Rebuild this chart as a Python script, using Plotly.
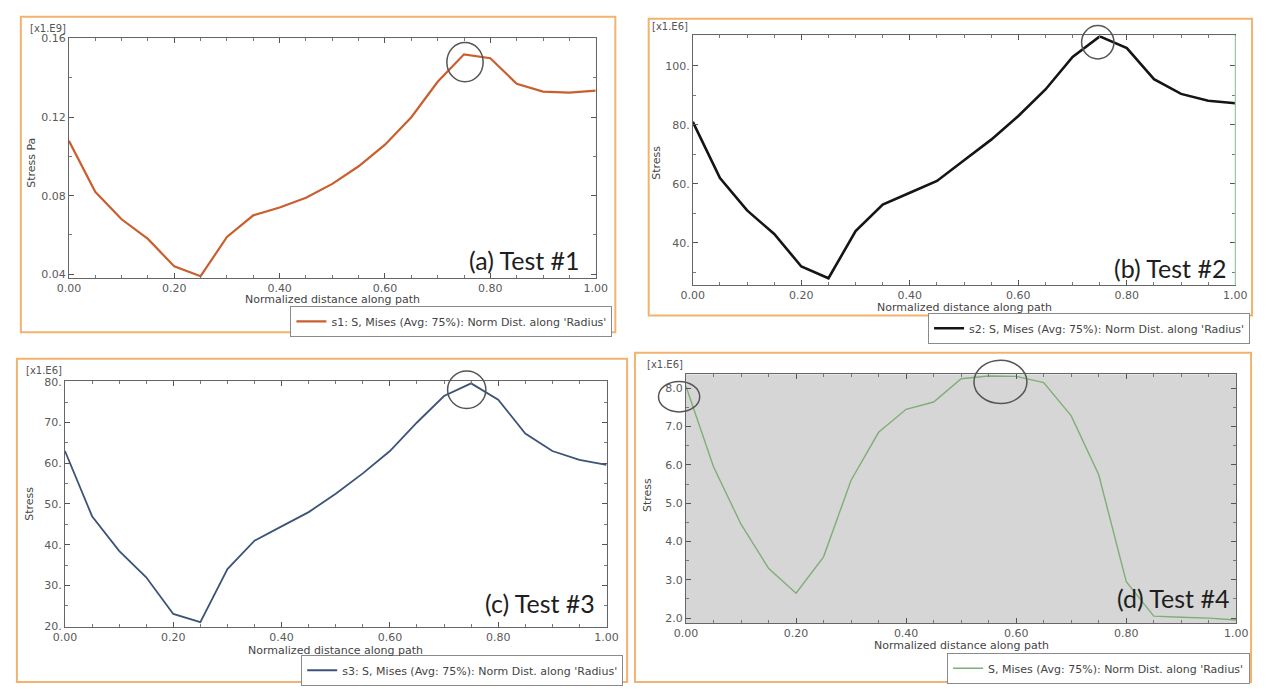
import plotly.graph_objects as go

W, H = 1266, 689

# ---------------- data ----------------
X = [0.00, 0.05, 0.10, 0.15, 0.20, 0.25, 0.30, 0.35, 0.40, 0.45, 0.50,
     0.55, 0.60, 0.65, 0.70, 0.75, 0.80, 0.85, 0.90, 0.95, 1.00]

S1 = [0.108, 0.082, 0.068, 0.058, 0.044, 0.039, 0.059, 0.070, 0.074, 0.079, 0.086,
      0.095, 0.106, 0.120, 0.138, 0.152, 0.150, 0.137, 0.133, 0.1325, 0.1335]
S2 = [81.0, 62.0, 51.0, 43.0, 32.0, 28.0, 44.0, 53.0, 57.0, 61.0, 68.0,
      75.0, 83.0, 92.0, 103.0, 110.0, 106.0, 95.5, 90.5, 88.2, 87.3]
S3 = [63.0, 47.0, 38.5, 32.0, 23.0, 21.0, 34.0, 41.0, 44.5, 48.0, 52.5,
      57.5, 63.0, 70.0, 76.5, 79.6, 75.6, 67.3, 63.0, 60.8, 59.6]
S4 = [8.05, 5.95, 4.45, 3.3, 2.65, 3.6, 5.6, 6.85, 7.45, 7.64, 8.25,
      8.32, 8.31, 8.15, 7.28, 5.74, 2.95, 2.05, 2.02, 2.0, 1.95]

X_TICKVALS = [0.0, 0.2, 0.4, 0.6, 0.8, 1.0]
X_TICKTEXT = ["0.00", "0.20", "0.40", "0.60", "0.80", "1.00"]
A_YTICKVALS = [0.04, 0.08, 0.12, 0.16]
A_YTICKTEXT = ["0.04", "0.08", "0.12", "0.16"]
B_YTICKVALS = [40, 60, 80, 100]
B_YTICKTEXT = ["40.", "60.", "80.", "100."]
C_YTICKVALS = [20, 30, 40, 50, 60, 70, 80]
C_YTICKTEXT = ["20.", "30.", "40.", "50.", "60.", "70.", "80."]
D_YTICKVALS = [2, 3, 4, 5, 6, 7, 8]
D_YTICKTEXT = ["2.0", "3.0", "4.0", "5.0", "6.0", "7.0", "8.0"]

LEGEND_NAMES = [
    "s1: S, Mises (Avg: 75%): Norm Dist. along 'Radius'",
    "s2: S, Mises (Avg: 75%): Norm Dist. along 'Radius'",
    "s3: S, Mises (Avg: 75%): Norm Dist. along 'Radius'",
    "S, Mises (Avg: 75%): Norm Dist. along 'Radius'",
]
PANEL_LABELS = ["(a) Test #1", "(b) Test #2", "(c) Test #3", "(d) Test #4"]
Y_TITLES = ["Stress Pa", "Stress", "Stress", "Stress"]
MULTIPLIERS = ["[x1.E9]", "[x1.E6]", "[x1.E6]", "[x1.E6]"]
X_TITLE = "Normalized distance along path"

# ---------------- layout geometry (pixels) ----------------
# plot area boxes: left, right, top, bottom
BOX = [(58, 595, 33, 277), (694, 1247, 30, 284), (54, 606, 382, 632), (687, 1248, 375, 628)]
YRANGES = [[0.038, 0.1601], [25.7, 110.3], [19.8, 80.1], [1.87, 8.36]]
MINOR_DY = [0.02, 10, 5, 0.5]
FRAMES = [(9, 615, 11, 332), (649, 1264, 13, 315), (5, 627, 359, 688), (635, 1263, 353, 688)]
COLORS = ["#c95f2e", "#151515", "#3c5478", "#7fae76"]
WIDTHS = [2.2, 2.6, 1.8, 1.4]
BG = ["white", "white", "white", "#d6d6d6"]
LEG_BOX = [(612, 321), (1262, 328), (623, 676), (1262, 674)]  # right, centre y
LABEL_POS = [(581, 258), (1239, 267), (596, 608), (1243, 603)]  # right, centre y
MULT_POS = [(16, 23), (650, 21), (12, 371), (645, 365)]
YTITLE_POS = [(20, 160), (657, 160), (18, 507), (648, 498)]
XTITLE_Y = [299, 307, 656, 651]

ALL_Y = [S1, S2, S3, S4]
YTV = [A_YTICKVALS, B_YTICKVALS, C_YTICKVALS, D_YTICKVALS]
YTT = [A_YTICKTEXT, B_YTICKTEXT, C_YTICKTEXT, D_YTICKTEXT]


def paper_x(p):
    return p / W


def paper_y(p):
    return 1 - p / H


def data_to_px(i, xv, yv):
    l, r, t, b = BOX[i]
    y0, y1 = YRANGES[i]
    return l + (xv - 0) / 1.0 * (r - l), b - (yv - y0) / (y1 - y0) * (b - t)


TICKFONT = dict(family="DejaVu Sans", size=11, color="#5a5a5a")
TXTFONT = dict(family="DejaVu Sans", size=11, color="#444")

fig = go.Figure()
layout = dict(width=W, height=H, margin=dict(l=0, r=0, t=0, b=0),
              paper_bgcolor="white", showlegend=True, shapes=[], annotations=[])

for i in range(4):
    sfx = "" if i == 0 else str(i + 1)
    leg = "legend" if i == 0 else "legend" + str(i + 1)
    fig.add_trace(go.Scatter(x=X, y=ALL_Y[i], mode="lines", name=LEGEND_NAMES[i],
                             line=dict(color=COLORS[i], width=WIDTHS[i]),
                             xaxis="x" + sfx, yaxis="y" + sfx, legend=leg))
    l, r, t, b = BOX[i]
    layout["xaxis" + sfx] = dict(
        domain=[paper_x(l), paper_x(r)], anchor="y" + sfx, range=[0, 1],
        tickmode="array", tickvals=X_TICKVALS, ticktext=X_TICKTEXT,
        ticks="inside", ticklen=5, tickcolor="#555", tickfont=TICKFONT,
        showline=True, linecolor="#666", linewidth=1, mirror="ticks",
        showgrid=False, zeroline=False, fixedrange=True,
        minor=dict(tickmode="linear", tick0=0, dtick=0.05, ticks="inside", ticklen=3,
                   tickcolor="#777", showgrid=False))
    layout["yaxis" + sfx] = dict(
        domain=[paper_y(b), paper_y(t)], anchor="x" + sfx, range=YRANGES[i],
        tickmode="array", tickvals=YTV[i], ticktext=YTT[i],
        ticks="inside", ticklen=5, tickcolor="#555", tickfont=TICKFONT,
        showline=True, linecolor="#666", linewidth=1, mirror="ticks",
        showgrid=False, zeroline=False, fixedrange=True,
        minor=dict(tickmode="linear", tick0=0, dtick=MINOR_DY[i], ticks="inside", ticklen=3,
                   tickcolor="#777", showgrid=False))
    # plot background
    layout["shapes"].append(dict(type="rect", xref="paper", yref="paper",
                                 x0=paper_x(l), x1=paper_x(r), y0=paper_y(b), y1=paper_y(t),
                                 fillcolor=BG[i], line=dict(width=0), layer="below"))
    # orange frame
    fl, fr, ft, fb = FRAMES[i]
    layout["shapes"].append(dict(type="rect", xref="paper", yref="paper",
                                 x0=paper_x(fl), x1=paper_x(fr), y0=paper_y(fb), y1=paper_y(ft),
                                 line=dict(color="#f2b36e", width=2), fillcolor="rgba(0,0,0,0)",
                                 layer="below"))
    # legend
    lr, lc = LEG_BOX[i]
    layout[leg] = dict(x=paper_x(lr), y=paper_y(lc), xanchor="right", yanchor="middle",
                       xref="paper", yref="paper", bgcolor="white", bordercolor="#8a8a8a",
                       borderwidth=1, font=dict(family="DejaVu Sans", size=11, color="#444"),
                       itemwidth=30, tracegroupgap=0)
    # panel label
    px_, py_ = LABEL_POS[i]
    layout["annotations"].append(dict(text=PANEL_LABELS[i], x=paper_x(px_), y=paper_y(py_),
                                      xref="paper", yref="paper", xanchor="right", yanchor="middle",
                                      showarrow=False, font=dict(family="Lato", size=25, color="#1e1e1e")))
    # multiplier label
    mx, my = MULT_POS[i]
    layout["annotations"].append(dict(text=MULTIPLIERS[i], x=paper_x(mx), y=paper_y(my),
                                      xref="paper", yref="paper", xanchor="left", yanchor="middle",
                                      showarrow=False, font=dict(family="DejaVu Sans", size=10, color="#555")))
    # y title
    tx, ty = YTITLE_POS[i]
    layout["annotations"].append(dict(text=Y_TITLES[i], x=paper_x(tx), y=paper_y(ty), textangle=-90,
                                      xref="paper", yref="paper", xanchor="center", yanchor="middle",
                                      showarrow=False, font=TXTFONT))
    # x title
    layout["annotations"].append(dict(text=X_TITLE, x=paper_x((l + r) / 2), y=paper_y(XTITLE_Y[i]),
                                      xref="paper", yref="paper", xanchor="center", yanchor="middle",
                                      showarrow=False, font=TXTFONT))

# faint green right border of panel (b)
l, r, t, b = BOX[1]
layout["shapes"].append(dict(type="line", xref="paper", yref="paper",
                             x0=paper_x(r), x1=paper_x(r), y0=paper_y(b), y1=paper_y(t),
                             line=dict(color="#9ccf9c", width=1.2)))

# highlight circles anchored on data points: (panel, point index, dx, dy, rx, ry)
CIRCLES = [
    (0, S1.index(max(S1)), 1, 8, 18.5, 20),
    (1, S2.index(max(S2)), -2, 6, 16.5, 17),
    (2, S3.index(max(S3)), -4.5, 6.5, 19.5, 19),
    (3, 0, -7, 10.5, 21, 15.5),
    (3, S4.index(max(S4)), 12, 6, 27, 22),
]
for (i, k, dx, dy, rx, ry) in CIRCLES:
    cx, cy = data_to_px(i, X[k], ALL_Y[i][k])
    cx += dx
    cy += dy
    layout["shapes"].append(dict(type="circle", xref="paper", yref="paper",
                                 x0=paper_x(cx - rx), x1=paper_x(cx + rx),
                                 y0=paper_y(cy + ry), y1=paper_y(cy - ry),
                                 line=dict(color="#555", width=1.5)))

fig.update_layout(**layout)
fig.write_html("out.html")
